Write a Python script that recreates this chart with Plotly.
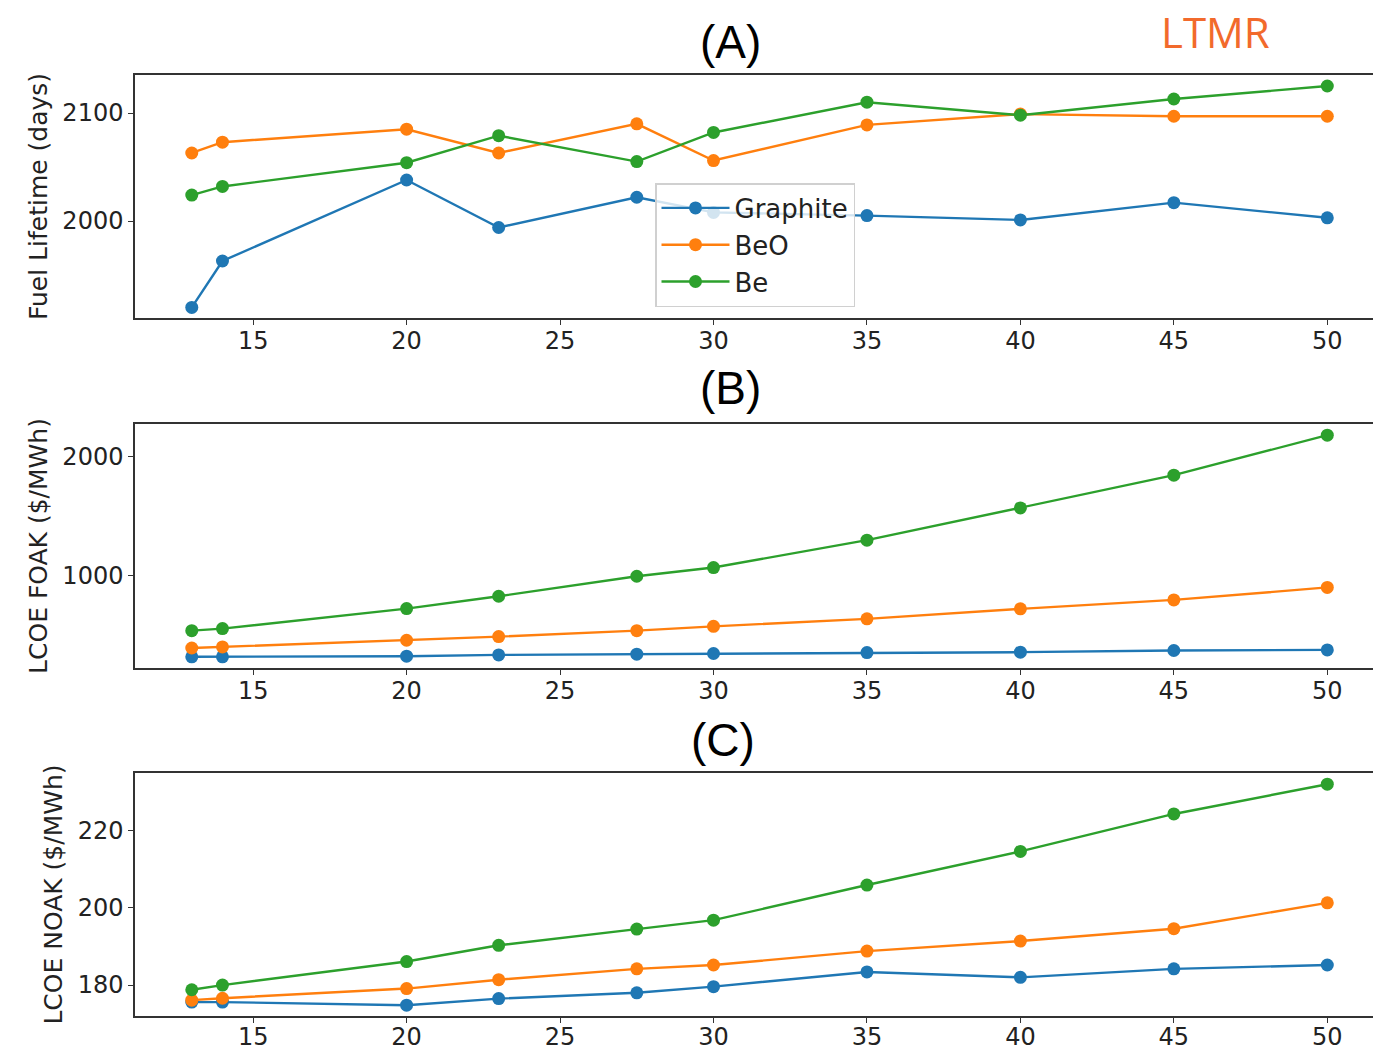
import plotly.graph_objects as go

# ---- data ----
x_vals = [13, 14, 20, 23, 27.5, 30, 35, 40, 45, 50]
series_names = ["Graphite", "BeO", "Be"]

life_graphite = [1920, 1963, 2038, 1994, 2022, 2008, 2005, 2001, 2017, 2003]
life_beo = [2063, 2073, 2085, 2063, 2090, 2056, 2089, 2099, 2097, 2097]
life_be = [2024, 2032, 2054, 2079, 2055, 2082, 2110, 2098, 2113, 2125]

foak_graphite = [320, 320, 325, 336, 342, 348, 356, 359, 373, 378]
foak_beo = [394, 403, 459, 490, 540, 576, 639, 723, 798, 903]
foak_be = [540, 557, 725, 829, 997, 1070, 1300, 1571, 1846, 2182]

noak_graphite = [175.6, 175.6, 174.8, 176.5, 178.0, 179.6, 183.4, 182.0, 184.2, 185.2]
noak_beo = [176.1, 176.6, 179.1, 181.4, 184.2, 185.2, 188.8, 191.4, 194.6, 201.3]
noak_be = [178.8, 180.0, 186.1, 190.3, 194.5, 196.8, 205.9, 214.6, 224.3, 232.0]

panel_titles = ["(A)", "(B)", "(C)"]
y_titles = ["Fuel Lifetime (days)", "LCOE FOAK ($/MWh)", "LCOE NOAK ($/MWh)"]
x_ticks = [15, 20, 25, 30, 35, 40, 45, 50]
y_ticks_a = [2000, 2100]
y_ticks_b = [1000, 2000]
y_ticks_c = [180, 200, 220]

colors = ["#1f77b4", "#ff7f0e", "#2ca02c"]

OFF = 8  # page body margin of the browser
W, H = 1381 - OFF, 1051 - OFF
ML = 135 - OFF


def px_y(y):
    return 1 - (y - OFF) / H


def px_x(x):
    # paper x is relative to the plot area (inside the margins)
    return (x - OFF - ML) / (W - ML)


fig = go.Figure()

panels = [
    (life_graphite, life_beo, life_be),
    (foak_graphite, foak_beo, foak_be),
    (noak_graphite, noak_beo, noak_be),
]
axis_ids = ["", "2", "3"]
for p, (sets, aid) in enumerate(zip(panels, axis_ids)):
    for s, (vals, name, col) in enumerate(zip(sets, series_names, colors)):
        fig.add_trace(go.Scatter(
            x=x_vals, y=vals, name=name, mode="lines+markers",
            line=dict(color=col, width=2.4),
            marker=dict(color=col, size=13),
            xaxis="x" + aid, yaxis="y" + aid,
            showlegend=(p == 0),
        ))

# pixel geometry of plot areas in page pixels (top, bottom)
boxes = [(75, 318), (424, 668), (773, 1016)]
yranges = [[1910.2, 2135.2], [226, 2276], [172.0, 234.9]]
yticks = [y_ticks_a, y_ticks_b, y_ticks_c]
x_standoffs = [-5, -5, -7]

FONT = "DejaVu Sans"
tick_font = dict(family=FONT, size=24, color="#222")
axis_common = dict(
    showline=True, linecolor="#333", linewidth=1.5,
    ticks="outside", ticklen=5, tickwidth=1.4, tickcolor="#333",
    showgrid=False, zeroline=False, tickfont=tick_font,
)

layout = dict(
    width=W, height=H,
    margin=dict(l=ML, r=0, t=0, b=0, autoexpand=False),
    plot_bgcolor="white", paper_bgcolor="white",
    showlegend=True,
    legend=dict(
        x=px_x(655), y=px_y(183), xanchor="left", yanchor="top",
        bgcolor="rgba(255,255,255,0.8)", bordercolor="#d0d0d0", borderwidth=1.5,
        font=dict(family=FONT, size=26, color="#222"),
        itemwidth=68, tracegroupgap=0,
    ),
)
for i, aid in enumerate(axis_ids):
    top, bot = boxes[i]
    dom = [px_y(bot), px_y(top)]
    layout["xaxis" + aid] = dict(
        axis_common, domain=[0, 1], range=[11.15, 51.75],
        tickvals=x_ticks, mirror=True, anchor="y" + aid,
        ticklabelstandoff=x_standoffs[i],
    )
    layout["yaxis" + aid] = dict(
        axis_common, domain=dom, range=yranges[i], tickvals=yticks[i],
        anchor="x" + aid,
        title=dict(text=y_titles[i], font=dict(family=FONT, size=25, color="#222"), standoff=8),
    )
fig.update_layout(**layout)

title_pos = [(730, 42), (730, 388), (723, 740)]
for (tx, ty), t in zip(title_pos, panel_titles):
    fig.add_annotation(
        text=t, x=px_x(tx), y=px_y(ty), xref="paper", yref="paper",
        showarrow=False, xanchor="center", yanchor="middle",
        font=dict(family="Liberation Sans", size=46, color="black"),
    )

fig.add_annotation(
    text="LTMR", x=px_x(1215), y=px_y(31), xref="paper", yref="paper",
    showarrow=False, xanchor="center", yanchor="middle", borderpad=0,
    font=dict(family="Open Sans", size=42, color="#f26a2c"),
)

fig.write_html("out.html")
